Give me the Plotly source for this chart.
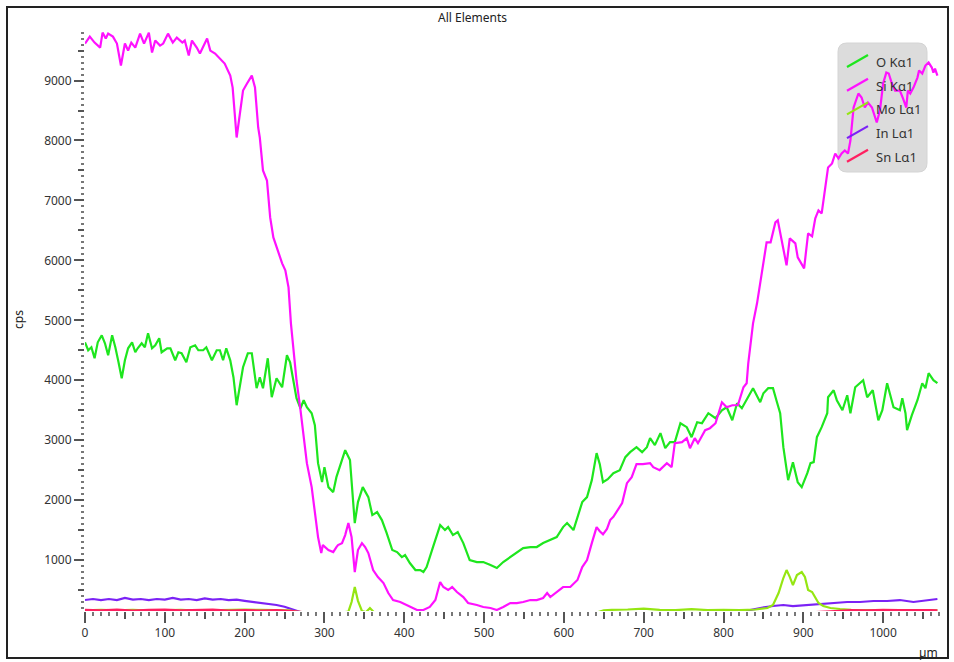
import plotly.graph_objects as go

# ---------------- data ----------------
si_x = [0, 6, 12, 19, 22, 26, 29, 35, 40, 45, 50, 54, 58, 63, 69, 74, 80, 84, 88, 94, 98, 104, 110, 115, 122, 125,
        130, 134, 140, 144, 153, 157, 163, 169, 175, 182, 185, 190, 198, 203, 209, 213, 217, 219, 223, 228, 232, 236,
        242, 247, 251, 255, 258, 261, 265, 270, 274, 278, 284, 289, 292, 296, 298, 305, 311, 315, 317, 322, 326, 330,
        334, 338, 342, 347, 351, 355, 361, 367, 374, 380, 386, 395, 403, 410, 416, 424, 432, 439, 445, 449, 455, 460,
        466, 474, 480, 491, 499, 508, 516, 524, 533, 541, 549, 558, 566, 574, 579, 583, 591, 599, 608, 617, 623, 629,
        635, 641, 645, 649, 654, 658, 662, 667, 673, 679, 685, 691, 699, 708, 712, 720, 729, 735, 739, 748, 754, 758,
        764, 768, 777, 783, 790, 798, 804, 811, 818, 825, 829, 831, 837, 842, 846, 850, 854, 859, 865, 868, 873, 879,
        883, 890, 893, 901, 906, 911, 915, 919, 923, 927, 931, 936, 940, 944, 948, 952, 956, 959, 961, 963, 966, 969,
        973, 977, 981, 986, 992, 996, 1000, 1004, 1007, 1011, 1015, 1021, 1025, 1029, 1031, 1034, 1038, 1043, 1045,
        1049, 1053, 1057, 1061, 1063, 1065, 1068]
si_y = [9617, 9733, 9633, 9550, 9800, 9700, 9783, 9733, 9617, 9250, 9617, 9500, 9633, 9550, 9783, 9617, 9800, 9467,
        9667, 9583, 9617, 9783, 9633, 9717, 9633, 9667, 9417, 9667, 9550, 9450, 9700, 9500, 9450, 9367, 9283, 9083,
        8883, 8050, 8833, 8950, 9083, 8883, 8217, 8050, 7500, 7333, 6717, 6383, 6133, 5950, 5833, 5550, 4950, 4500,
        4000, 3500, 3050, 2617, 2217, 1667, 1383, 1117, 1250, 1167, 1133, 1217, 1250, 1280, 1417, 1617, 1383, 800,
        1167, 1283, 1217, 1117, 833, 717, 617, 450, 333, 300, 250, 217, 167, 167, 217, 333, 633, 550, 500, 550, 467,
        383, 283, 250, 217, 200, 167, 217, 283, 283, 300, 333, 333, 367, 450, 383, 467, 550, 550, 667, 883, 1000,
        1283, 1550, 1480, 1430, 1520, 1667, 1720, 1833, 1950, 2283, 2383, 2600, 2600, 2617, 2550, 2500, 2617, 2550,
        2950, 2967, 3033, 2867, 3033, 2950, 3167, 3200, 3283, 3633, 3550, 3583, 3583, 3883, 3950, 4283, 4950, 5283,
        5617, 6000, 6300, 6300, 6633, 6667, 6333, 5917, 6367, 6283, 6050, 5867, 6450, 6400, 6700, 6833, 6783, 7167,
        7550, 7617, 7783, 7700, 7783, 7833, 7783, 8000, 8283, 8550, 8667, 8783, 8717, 8550, 8633, 8550, 8300, 8500,
        8950, 9133, 9117, 8950, 8833, 8833, 8700, 8550, 8833, 8783, 8883, 9050, 9167, 9117, 9250, 9300, 9217, 9133,
        9200, 9083]

o_x = [0, 4, 8, 12, 16, 21, 25, 29, 34, 38, 42, 46, 50, 54, 59, 63, 66, 71, 75, 79, 84, 88, 93, 96, 103, 107, 113,
       117, 121, 127, 132, 138, 142, 148, 152, 159, 165, 169, 173, 177, 182, 186, 190, 194, 198, 204, 209, 215, 219,
       223, 229, 234, 240, 247, 253, 257, 261, 265, 270, 274, 278, 284, 288, 292, 297, 300, 305, 311, 315, 319, 326,
       332, 334, 338, 342, 348, 355, 360, 366, 372, 378, 385, 391, 397, 401, 407, 414, 420, 424, 428, 436, 445, 451,
       455, 461, 467, 474, 482, 491, 499, 508, 516, 524, 533, 541, 549, 558, 566, 574, 583, 591, 599, 604, 612, 617,
       623, 629, 635, 641, 645, 649, 655, 662, 670, 677, 683, 691, 698, 704, 708, 714, 721, 727, 733, 739, 746, 754,
       760, 767, 773, 781, 790, 798, 804, 811, 817, 823, 829, 837, 846, 850, 856, 862, 867, 871, 875, 881, 887, 893,
       898, 905, 909, 913, 917, 923, 930, 931, 938, 942, 949, 955, 959, 965, 975, 980, 987, 994, 999, 1005, 1013,
       1021, 1024, 1028, 1030, 1036, 1043, 1049, 1053, 1057, 1063, 1068]
o_y = [4633, 4500, 4550, 4367, 4633, 4750, 4617, 4417, 4750, 4550, 4300, 4033, 4333, 4533, 4633, 4467, 4533, 4617,
       4550, 4783, 4533, 4583, 4700, 4467, 4533, 4533, 4333, 4467, 4450, 4300, 4550, 4583, 4500, 4500, 4550, 4333,
       4500, 4500, 4333, 4533, 4333, 4050, 3583, 3883, 4217, 4450, 4450, 3867, 4050, 3867, 4367, 3717, 4033, 3883,
       4417, 4300, 4000, 3700, 3533, 3667, 3550, 3450, 3250, 2617, 2300, 2550, 2217, 2133, 2383, 2550, 2833, 2667,
       2333, 1617, 1967, 2217, 2050, 1750, 1800, 1667, 1450, 1167, 1133, 1050, 1083, 950, 833, 833, 800, 883, 1217,
       1583, 1500, 1550, 1417, 1467, 1283, 1000, 967, 967, 917, 867, 967, 1050, 1133, 1200, 1217, 1217, 1283, 1333,
       1383, 1550, 1617, 1500, 1717, 1967, 2050, 2333, 2783, 2600, 2300, 2350, 2450, 2500, 2717, 2800, 2883, 2800,
       2883, 3033, 2917, 3117, 2867, 2967, 2967, 3283, 3217, 3050, 3300, 3283, 3450, 3367, 3500, 3550, 3333, 3617,
       3533, 3667, 3867, 3633, 3783, 3867, 3867, 3633, 3450, 2883, 2333, 2633, 2300, 2217, 2450, 2617, 2633, 3050,
       3217, 3450, 3717, 3833, 3667, 3500, 3750, 3450, 3883, 4000, 3717, 3833, 3333, 3500, 3950, 3550, 3500, 3700,
       3450, 3167, 3417, 3667, 3950, 3867, 4117, 4000, 3950]

mo_x = [0, 20, 40, 60, 80, 100, 120, 140, 160, 180, 200, 220, 240, 255, 265, 280, 300, 320, 330, 334, 338, 342, 347,
        352, 357, 362, 380, 450, 550, 640, 650, 660, 680, 700, 720, 740, 760, 780, 800, 820, 840, 855, 862, 869, 875,
        879, 883, 887, 892, 898, 902, 906, 911, 915, 919, 925, 934, 946, 960, 980, 1000, 1020, 1040, 1060, 1068]
mo_y = [160, 168, 160, 170, 158, 165, 170, 158, 166, 168, 175, 168, 170, 160, 140, 120, 110, 120, 140, 300, 550, 320,
        150, 130, 200, 130, 110, 100, 100, 120, 160, 170, 175, 190, 170, 165, 180, 165, 170, 165, 175, 200, 250, 450,
        700, 833, 720, 583, 750, 800, 717, 500, 467, 367, 283, 233, 200, 183, 170, 165, 160, 165, 160, 165, 160]

in_x = [0, 10, 20, 30, 40, 50, 60, 70, 80, 90, 100, 110, 120, 130, 140, 150, 160, 170, 180, 190, 200, 211, 220, 230,
        240, 250, 257, 265, 275, 300, 500, 800, 820, 833, 846, 862, 875, 887, 904, 921, 937, 955, 971, 988, 1005,
        1021, 1038, 1055, 1068]
in_y = [333, 350, 333, 350, 333, 367, 340, 350, 333, 350, 340, 367, 340, 350, 333, 360, 340, 350, 330, 340, 320, 300,
        290, 270, 250, 220, 190, 150, 110, 90, 90, 100, 130, 167, 200, 233, 250, 233, 250, 267, 283, 300, 300, 317,
        317, 333, 300, 333, 350]

sn_x = [0, 20, 40, 60, 80, 100, 120, 140, 160, 180, 200, 220, 240, 260, 280, 500, 900, 940, 960, 980, 1000, 1020,
        1040, 1060, 1068]
sn_y = [168, 160, 172, 158, 170, 172, 160, 168, 172, 158, 166, 158, 165, 150, 120, 100, 120, 150, 165, 160, 170,
        165, 170, 165, 160]

series_names = ["O K\u03b11", "Si K\u03b11", "Mo L\u03b11", "In L\u03b11", "Sn L\u03b11"]
series_colors = ["#1EE61E", "#FF11FF", "#95E612", "#7B22F5", "#FF2060"]

x_ticks = [0, 100, 200, 300, 400, 500, 600, 700, 800, 900, 1000]
y_ticks = [1000, 2000, 3000, 4000, 5000, 6000, 7000, 8000, 9000]

# ---------------- layout geometry ----------------
W, H = 954, 662
L, R, T, B = 85, 939, 32, 611
X_RANGE = [0, 1070]
Y_RANGE = [150, 9810]
FONT = "Noto Sans"


def px2x(p):
    return (p - L) / (R - L)


def py2y(p):
    return (B - p) / (B - T)


fig = go.Figure()

draw_order = [3, 2, 4, 0, 1]  # In, Mo, Sn, O, Si
data = {0: (o_x, o_y), 1: (si_x, si_y), 2: (mo_x, mo_y), 3: (in_x, in_y), 4: (sn_x, sn_y)}
for i in draw_order:
    xs, ys = data[i]
    fig.add_trace(go.Scatter(x=xs, y=ys, mode="lines", name=series_names[i],
                             line=dict(color=series_colors[i], width=2.2), showlegend=False,
                             hoverinfo="skip"))

# empty trace on overlay axes (medium ticks)
fig.add_trace(go.Scatter(x=[], y=[], xaxis="x2", yaxis="y2", showlegend=False))

tick_col = "#555555"
fig.update_layout(
    width=W, height=H,
    margin=dict(l=L, r=W - R, t=T, b=H - B),
    paper_bgcolor="white", plot_bgcolor="white",
    font=dict(family=FONT, size=12, color="#333333"),
    xaxis=dict(range=X_RANGE, tickmode="array", tickvals=x_ticks, ticktext=[str(v) for v in x_ticks],
               ticks="outside", ticklen=11, tickwidth=1.5, tickcolor=tick_col,
               showgrid=False, zeroline=False, showline=False,
               tickfont=dict(size=12, color="#333333"),
               minor=dict(dtick=10, tick0=0, ticks="outside", ticklen=4, tickwidth=1.5, tickcolor="#777777",
                          showgrid=False)),
    yaxis=dict(range=Y_RANGE, tickmode="array", tickvals=y_ticks, ticktext=[str(v) for v in y_ticks],
               ticks="outside", ticklen=10, tickwidth=1.5, tickcolor=tick_col,
               showgrid=False, zeroline=False, showline=False,
               tickfont=dict(size=12, color="#333333"),
               minor=dict(dtick=100, tick0=0, ticks="outside", ticklen=3, tickwidth=1.5, tickcolor="#777777",
                          showgrid=False)),
    xaxis2=dict(range=X_RANGE, overlaying="x", side="bottom", anchor="y", tickmode="linear", tick0=50, dtick=100,
                ticks="outside", ticklen=7, tickwidth=1.5, tickcolor=tick_col, showticklabels=False,
                showgrid=False, zeroline=False, showline=False),
    yaxis2=dict(range=Y_RANGE, overlaying="y", side="left", anchor="x", tickmode="linear", tick0=500, dtick=1000,
                ticks="outside", ticklen=6, tickwidth=1.5, tickcolor=tick_col, showticklabels=False,
                showgrid=False, zeroline=False, showline=False),
)

shapes = []
annotations = []

# outer frame
shapes.append(dict(type="rect", xref="paper", yref="paper", x0=px2x(7), x1=px2x(948), y0=py2y(658), y1=py2y(7),
                   line=dict(color="#222222", width=2), fillcolor="rgba(0,0,0,0)", layer="above"))

# legend box (rounded)
bx0, bx1, by0, by1, r = 838, 927, 43, 172, 9
path = (f"M {px2x(bx0 + r)} {py2y(by0)} L {px2x(bx1 - r)} {py2y(by0)} "
        f"Q {px2x(bx1)} {py2y(by0)} {px2x(bx1)} {py2y(by0 + r)} "
        f"L {px2x(bx1)} {py2y(by1 - r)} Q {px2x(bx1)} {py2y(by1)} {px2x(bx1 - r)} {py2y(by1)} "
        f"L {px2x(bx0 + r)} {py2y(by1)} Q {px2x(bx0)} {py2y(by1)} {px2x(bx0)} {py2y(by1 - r)} "
        f"L {px2x(bx0)} {py2y(by0 + r)} Q {px2x(bx0)} {py2y(by0)} {px2x(bx0 + r)} {py2y(by0)} Z")
shapes.append(dict(type="path", xref="paper", yref="paper", path=path, fillcolor="#DCDCDC",
                   line=dict(color="#D4D4D4", width=1), layer="below"))

for i, (nm, col) in enumerate(zip(series_names, series_colors)):
    yc = 62 + 23.7 * i
    shapes.append(dict(type="line", xref="paper", yref="paper", x0=px2x(847), y0=py2y(yc + 5),
                       x1=px2x(868), y1=py2y(yc - 7), line=dict(color=col, width=2.2), layer="above"))
    annotations.append(dict(xref="paper", yref="paper", x=px2x(874), y=py2y(yc), text=nm, showarrow=False,
                            xanchor="left", yanchor="middle", font=dict(family=FONT, size=13, color="#333333")))

# title and axis labels
annotations.append(dict(xref="paper", yref="paper", x=px2x(472), y=py2y(18), text="All Elements", showarrow=False,
                        xanchor="center", yanchor="middle", font=dict(family=FONT, size=12, color="#222222")))
annotations.append(dict(xref="paper", yref="paper", x=px2x(18), y=py2y(320), text="cps", showarrow=False,
                        textangle=-90, xanchor="center", yanchor="middle",
                        font=dict(family=FONT, size=12, color="#222222")))
annotations.append(dict(xref="paper", yref="paper", x=px2x(928), y=py2y(652), text="\u00b5m", showarrow=False,
                        xanchor="center", yanchor="middle", font=dict(family=FONT, size=12, color="#222222")))

fig.update_layout(shapes=shapes, annotations=annotations)

fig.write_html("out.html")
